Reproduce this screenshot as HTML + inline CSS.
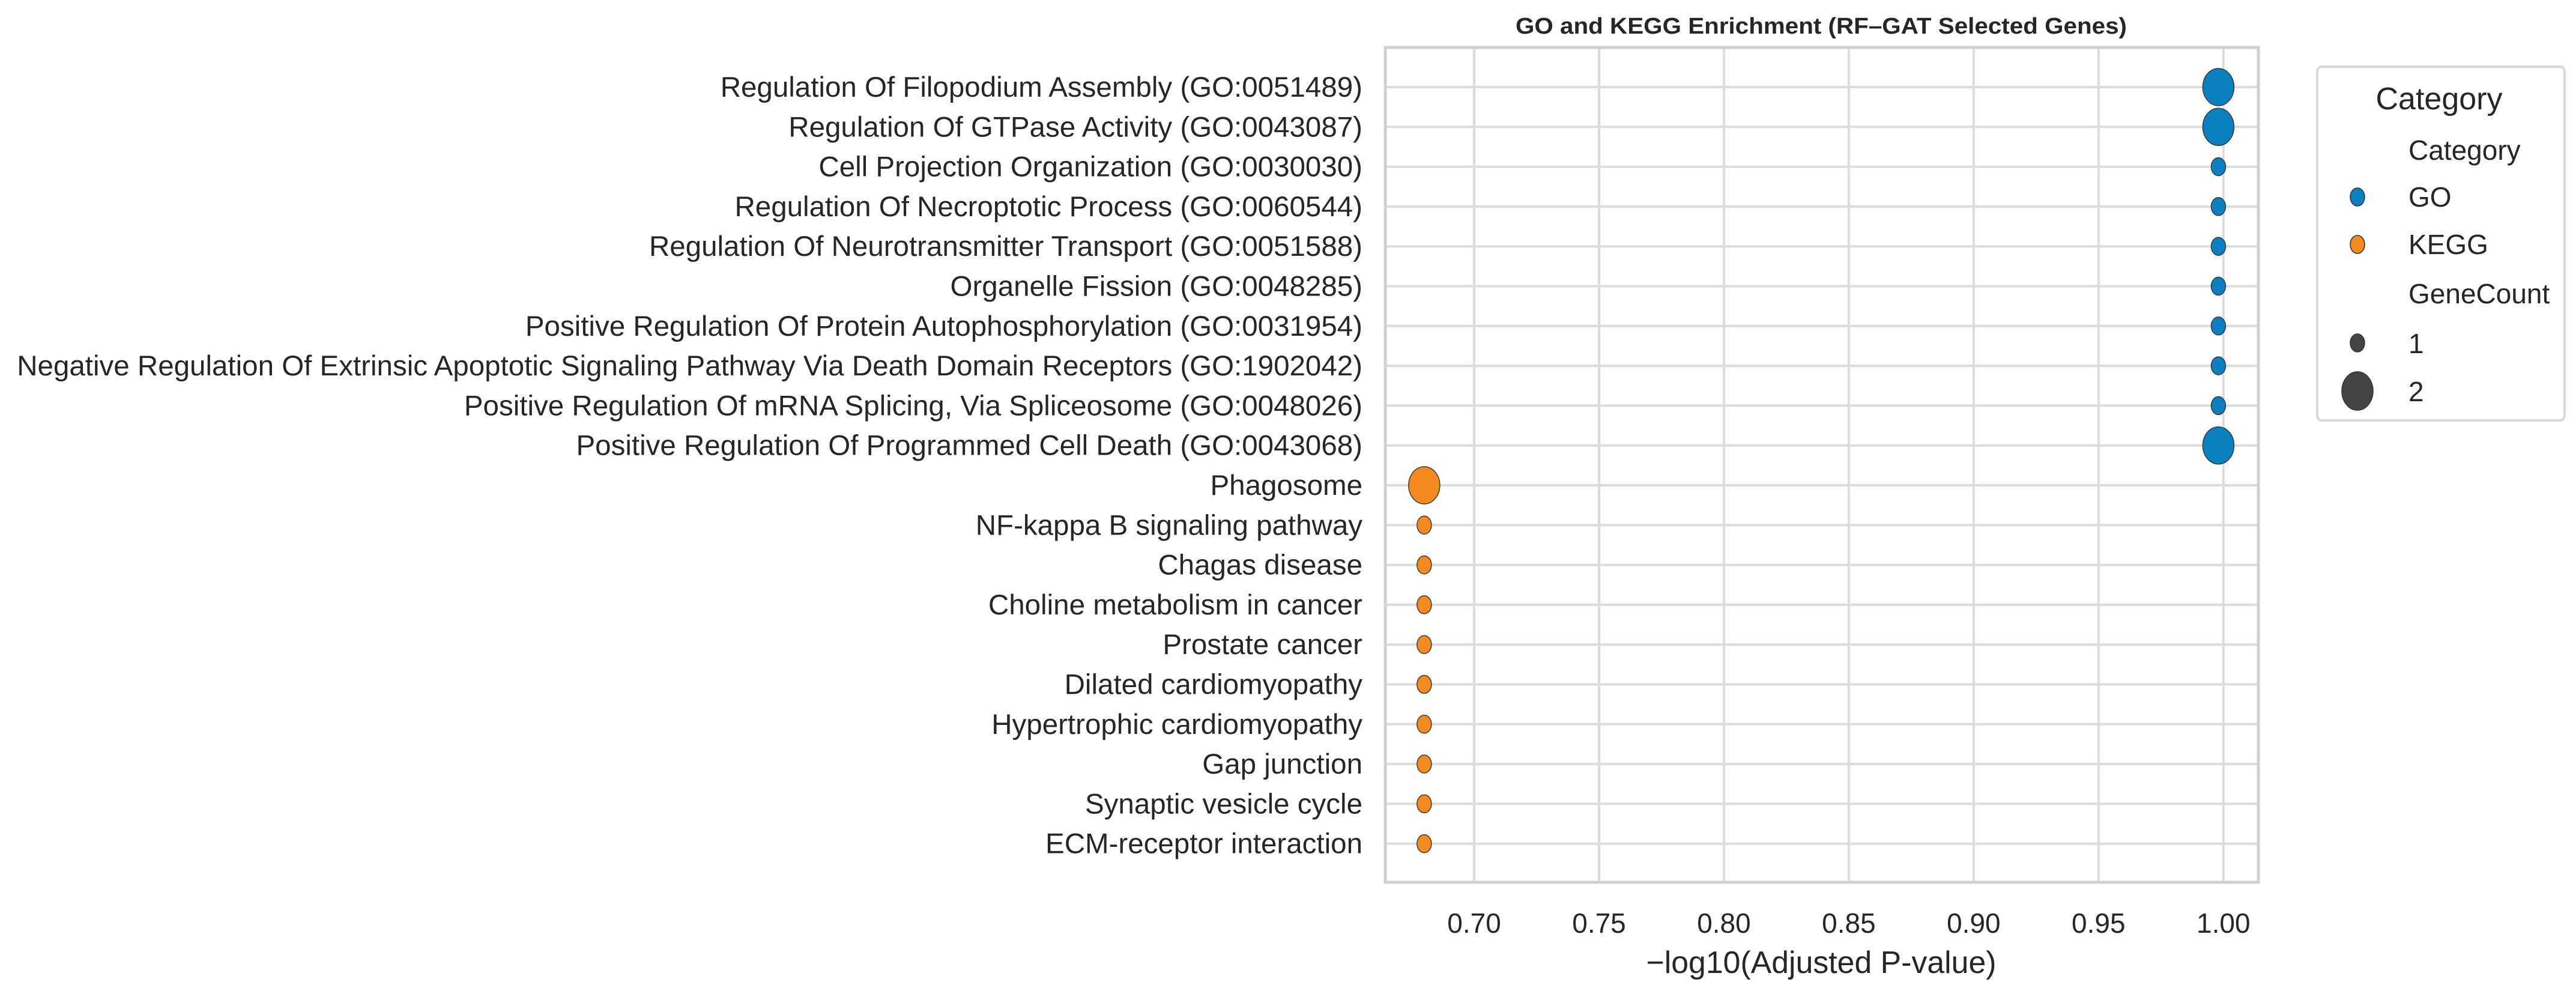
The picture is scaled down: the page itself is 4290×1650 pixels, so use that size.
<!DOCTYPE html>
<html><head><meta charset="utf-8"><style>html,body{margin:0;padding:0;background:#fff}svg{display:block}text{font-family:"Liberation Sans",sans-serif;fill:#262626}</style></head>
<body>
<svg id="chart" width="4290" height="1650" viewBox="0 0 4290 1650" xmlns="http://www.w3.org/2000/svg">
<rect width="4290" height="1650" fill="#fff"/>
<g id="grid"></g>
<g id="marks"></g>
<g id="labels"></g>
<rect x="2307" y="79" width="1454" height="1390" fill="none" stroke="#d0d0d0" stroke-width="5"/>
<text x="3033" y="56" text-anchor="middle" font-size="38" font-weight="bold" textLength="1018" lengthAdjust="spacingAndGlyphs">GO and KEGG Enrichment (RF–GAT Selected Genes)</text>
<text x="3033" y="1620" text-anchor="middle" font-size="52" textLength="583" lengthAdjust="spacingAndGlyphs">−log10(Adjusted P-value)</text>
<g>
<rect x="3859" y="111" width="412" height="589" rx="8" fill="#fff" stroke="#d8d8d8" stroke-width="4"/>
<text x="4062" y="182" text-anchor="middle" font-size="52">Category</text>
<text x="4011" y="266" font-size="46">Category</text>
<ellipse cx="3926" cy="328" rx="12" ry="15" fill="#0a80c0" stroke="#333" stroke-width="1.5"/>
<text x="4011" y="344" font-size="46">GO</text>
<ellipse cx="3926" cy="407" rx="12" ry="15" fill="#f58a1f" stroke="#333" stroke-width="1.5"/>
<text x="4011" y="423" font-size="46">KEGG</text>
<text x="4011" y="505" font-size="46">GeneCount</text>
<ellipse cx="3926" cy="571" rx="12" ry="15" fill="#444" stroke="#333" stroke-width="1.5"/>
<text x="4011" y="588" font-size="46">1</text>
<ellipse cx="3926" cy="651" rx="26" ry="32" fill="#444" stroke="#333" stroke-width="1.5"/>
<text x="4011" y="668" font-size="46">2</text>
</g>
</svg>
<script>
const categories = ["Regulation Of Filopodium Assembly (GO:0051489)","Regulation Of GTPase Activity (GO:0043087)","Cell Projection Organization (GO:0030030)","Regulation Of Necroptotic Process (GO:0060544)","Regulation Of Neurotransmitter Transport (GO:0051588)","Organelle Fission (GO:0048285)","Positive Regulation Of Protein Autophosphorylation (GO:0031954)","Negative Regulation Of Extrinsic Apoptotic Signaling Pathway Via Death Domain Receptors (GO:1902042)","Positive Regulation Of mRNA Splicing, Via Spliceosome (GO:0048026)","Positive Regulation Of Programmed Cell Death (GO:0043068)","Phagosome","NF-kappa B signaling pathway","Chagas disease","Choline metabolism in cancer","Prostate cancer","Dilated cardiomyopathy","Hypertrophic cardiomyopathy","Gap junction","Synaptic vesicle cycle","ECM-receptor interaction"];
const pValues = [0.998,0.998,0.998,0.998,0.998,0.998,0.998,0.998,0.998,0.998,0.68,0.68,0.68,0.68,0.68,0.68,0.68,0.68,0.68,0.68];
const geneCounts = [2,2,1,1,1,1,1,1,1,2,2,1,1,1,1,1,1,1,1,1];
const groups = ["GO","GO","GO","GO","GO","GO","GO","GO","GO","GO","KEGG","KEGG","KEGG","KEGG","KEGG","KEGG","KEGG","KEGG","KEGG","KEGG"];
const xTicks = [0.70,0.75,0.80,0.85,0.90,0.95,1.00];
const xTickLabels = ["0.70","0.75","0.80","0.85","0.90","0.95","1.00"];

const NS="http://www.w3.org/2000/svg";
const X0=2307,X1=3761,XMIN=0.6644,XMAX=1.014;
const xs=v=>X0+(v-XMIN)/(XMAX-XMIN)*(X1-X0);
const ROW0=145,ROWSTEP=66.3;
const ys=i=>ROW0+i*ROWSTEP;
const colors={GO:"#0a80c0",KEGG:"#f58a1f"};
function mk(tag,attrs,parent){const e=document.createElementNS(NS,tag);for(const k in attrs)e.setAttribute(k,attrs[k]);parent.appendChild(e);return e;}
const grid=document.getElementById('grid'),marks=document.getElementById('marks'),labels=document.getElementById('labels');
xTicks.forEach((t,i)=>{
  const l=mk('line',{x1:xs(t),x2:xs(t),y1:79,y2:1469,stroke:'#dcdcdc','stroke-width':4},grid);
  
  
  const tx=mk('text',{x:xs(t),y:1553,'text-anchor':'middle','font-size':46},labels);
  tx.textContent=xTickLabels[i];
  
  
});
categories.forEach((c,i)=>{
  const y=ys(i);
  const l=mk('line',{x1:X0,x2:X1,y1:y,y2:y,stroke:'#dcdcdc','stroke-width':4},grid);
  
  
  const tx=mk('text',{x:2269,y:y+16,'text-anchor':'end','font-size':47.5},labels);
  tx.textContent=c;
  
  
  const big=geneCounts[i]>=2;
  const e=mk('ellipse',{cx:xs(pValues[i]),cy:y,rx:big?26:12,ry:big?31:15,fill:colors[groups[i]],stroke:'#3a3a3a','stroke-width':1.5},marks);
  
  
});
</script>
</body></html>
